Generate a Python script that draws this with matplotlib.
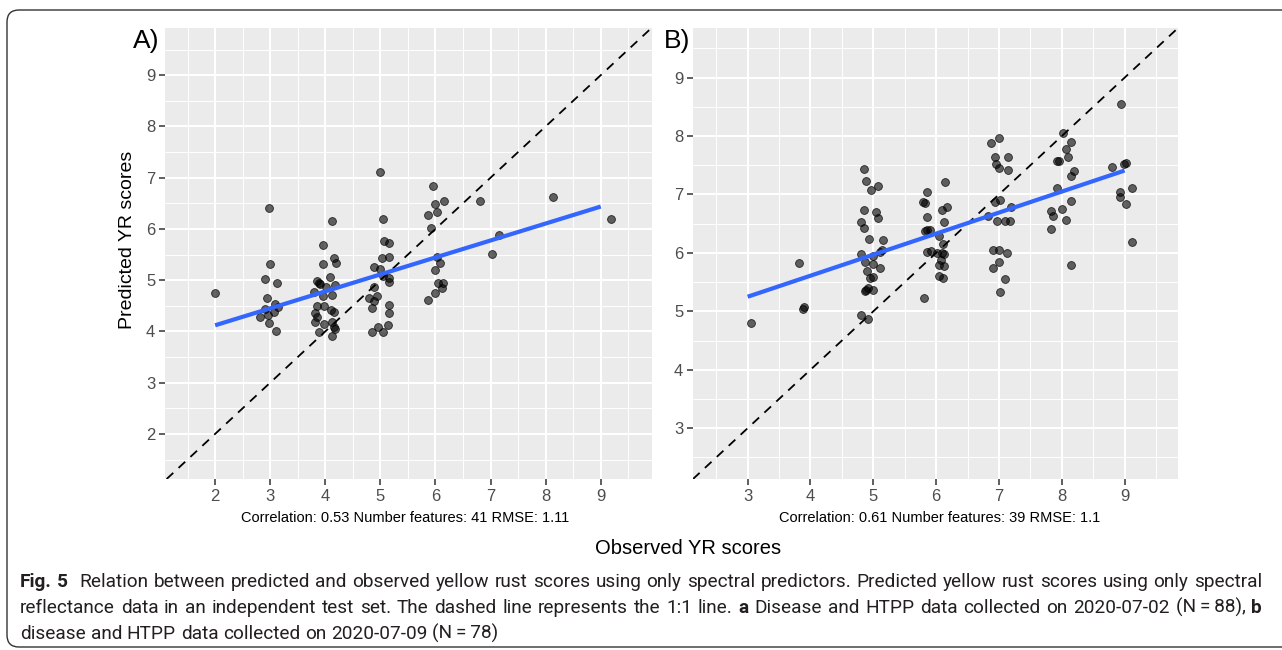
import re
import matplotlib
matplotlib.use('Agg')
import matplotlib.pyplot as plt
from matplotlib.ticker import MultipleLocator
from matplotlib.transforms import IdentityTransform
from matplotlib.patches import FancyBboxPatch
import numpy as np

# ---- data (observed jittered, predicted) ----
obs_a = [2.00,
         2.98, 3.00, 2.91, 3.13, 2.95, 2.91, 3.09, 3.15, 3.06, 2.82, 2.96, 2.97, 3.11,
         4.13, 3.95, 3.95, 4.15, 4.20, 4.09, 3.85, 3.91, 3.88, 4.02, 4.18, 3.80, 3.95, 4.13,
         3.85, 3.98, 3.82, 3.85, 4.11, 4.16, 3.82, 3.98, 4.13, 4.15, 4.18, 3.89, 4.13,
         5.00, 5.04, 5.07, 5.16, 4.89, 5.02, 5.16, 5.00, 5.04, 5.16, 5.15, 4.89, 4.94, 4.80,
         4.89, 4.85, 5.15, 5.16, 5.13, 4.95, 4.85, 5.04,
         5.96, 6.00, 6.15, 5.87, 6.02, 5.91, 6.02, 6.09, 6.00, 6.05, 6.13, 6.11, 6.00, 5.87,
         6.80, 7.15, 7.02, 8.13, 9.18]
pred_a = [4.74,
          6.40, 5.31, 5.02, 4.94, 4.65, 4.43, 4.53, 4.47, 4.37, 4.28, 4.32, 4.16, 4.00,
          6.16, 5.68, 5.31, 5.44, 5.33, 5.07, 4.98, 4.92, 4.95, 4.86, 4.90, 4.76, 4.69, 4.72,
          4.49, 4.49, 4.35, 4.28, 4.41, 4.37, 4.18, 4.14, 4.18, 4.08, 4.04, 3.98, 3.91,
          7.12, 6.20, 5.77, 5.73, 5.25, 5.44, 5.45, 5.21, 5.09, 5.05, 4.96, 4.86, 4.70, 4.65,
          4.59, 4.45, 4.51, 4.35, 4.12, 4.08, 3.98, 3.98,
          6.84, 6.48, 6.55, 6.28, 6.32, 6.01, 5.46, 5.34, 5.19, 4.94, 4.94, 4.84, 4.74, 4.61,
          6.55, 5.89, 5.52, 6.63, 6.20]

obs_b = [3.05, 3.82, 3.88, 3.90,
         4.85, 4.89, 4.97, 5.07, 4.85, 5.04, 5.07, 4.81, 4.85, 4.93, 5.16, 4.80, 5.10, 5.14,
         4.87, 5.00, 5.10, 4.90, 4.95, 5.00, 4.87, 4.88, 4.91, 4.99, 4.81, 4.91, 5.00,
         5.86, 6.14, 5.79, 5.83, 6.10, 6.18, 5.85, 6.13, 5.82, 5.86, 5.91, 6.05, 6.11, 5.86,
         5.92, 6.01, 6.09, 6.12, 6.07, 6.05, 6.12, 6.05, 6.11, 5.80,
         6.87, 7.00, 6.93, 6.95, 7.00, 7.14, 7.14, 6.94, 7.01, 7.19, 6.82, 6.97, 7.10, 7.17,
         6.90, 7.00, 7.13, 7.00, 6.91, 7.09, 7.02,
         8.02, 8.14, 8.07, 8.10, 7.93, 7.95, 8.19, 8.14, 7.93, 8.15, 7.83, 7.86, 8.00, 8.07,
         7.83, 8.15,
         8.94, 8.80, 8.99, 9.03, 8.92, 8.92, 9.11, 9.03, 9.11]
pred_b = [4.80, 5.83, 5.04, 5.07,
          7.43, 7.23, 7.08, 7.14, 6.74, 6.70, 6.60, 6.53, 6.43, 6.24, 6.22, 5.98, 6.02, 6.05,
          5.84, 5.81, 5.75, 5.69, 5.57, 5.58, 5.34, 5.36, 5.40, 5.37, 4.94, 4.87, 5.95,
          7.04, 7.21, 6.87, 6.86, 6.73, 6.79, 6.61, 6.53, 6.37, 6.39, 6.39, 6.29, 6.15, 6.02,
          6.03, 5.99, 6.00, 5.98, 5.88, 5.80, 5.77, 5.60, 5.57, 5.23,
          7.89, 7.97, 7.65, 7.53, 7.46, 7.65, 7.42, 6.88, 6.90, 6.78, 6.64, 6.55, 6.54, 6.55,
          6.05, 6.05, 5.99, 5.84, 5.75, 5.55, 5.33,
          8.05, 7.90, 7.78, 7.65, 7.57, 7.57, 7.40, 7.32, 7.11, 6.89, 6.72, 6.64, 6.76, 6.56,
          6.41, 5.80,
          8.55, 7.47, 7.53, 7.54, 7.05, 6.96, 7.11, 6.84, 6.19]

# linear fit (intercept, slope) as drawn
fit_a = (3.457, 0.331)
fit_b = (4.17, 0.36)

ticks_a = [2, 3, 4, 5, 6, 7, 8, 9]
ticks_b = [3, 4, 5, 6, 7, 8, 9]
lim_a_x = (1.09, 9.93)
lim_a_y = (1.12, 9.92)
lim_b = (2.13, 9.85)

stats_a = "Correlation: 0.53 Number features: 41 RMSE: 1.11"
stats_b = "Correlation: 0.61 Number features: 39 RMSE: 1.1"

caption = [
    [("Fig. 5", "bold"),
     ("  Relation between predicted and observed yellow rust scores using only spectral predictors. "
      "Predicted yellow rust scores using only spectral", "normal")],
    [("reflectance data in an independent test set. The dashed line represents the 1:1 line. ", "normal"),
     ("a", "bold"),
     (" Disease and HTPP data collected on 2020-07-02 (N\u2009=\u200988), ", "normal"),
     ("b", "bold")],
    [("disease and HTPP data collected on 2020-07-09 (N\u2009=\u200978)", "normal")],
]

W, H = 1282, 650
SANS = ['Liberation Sans', 'DejaVu Sans']
CAP = ['Roboto', 'DejaVu Sans']

fig = plt.figure(figsize=(W / 100, H / 100), dpi=100)
ident = IdentityTransform()


def px_axes(left, top, right, bottom):
    return fig.add_axes([left / W, 1 - bottom / H, (right - left) / W, (bottom - top) / H])


def gg_panel(ax, obs, pred, fit, ticks, xlim, ylim):
    ax.set_facecolor('#EBEBEB')
    for s in ax.spines.values():
        s.set_visible(False)
    ax.set_xlim(xlim)
    ax.set_ylim(ylim)
    ax.set_xticks(ticks)
    ax.set_yticks(ticks)
    ax.xaxis.set_minor_locator(MultipleLocator(0.5))
    ax.yaxis.set_minor_locator(MultipleLocator(0.5))
    ax.grid(which='major', color='white', linewidth=1.5)
    ax.grid(which='minor', color='white', linewidth=0.7)
    ax.set_axisbelow(True)
    ax.tick_params(which='major', length=4, width=1.1, color='#333333',
                   labelsize=12, labelcolor='#4D4D4D', pad=3)
    ax.tick_params(which='minor', length=0)
    for lab in ax.get_xticklabels() + ax.get_yticklabels():
        lab.set_family(SANS)

    ax.axline((0, 0), slope=1, color='black', linestyle=(0, (5, 4)), linewidth=1.3, zorder=2)
    ax.scatter(obs, pred, s=32, facecolor=(0, 0, 0, 0.6), edgecolor=(0, 0, 0, 0.75),
               linewidth=0.6, zorder=3)
    xs = np.array([round(min(obs)), round(max(obs))], dtype=float)
    ax.plot(xs, fit[0] + fit[1] * xs, color='#3366FF', linewidth=3.0,
            solid_capstyle='butt', zorder=4)


ax_a = px_axes(165, 28, 652, 479)
gg_panel(ax_a, obs_a, pred_a, fit_a, ticks_a, lim_a_x, lim_a_y)
ax_b = px_axes(693, 28, 1178, 479)
gg_panel(ax_b, obs_b, pred_b, fit_b, ticks_b, lim_b, lim_b)


def ptext(x, y, s, **kw):
    return fig.text(x, H - y, s, transform=ident, **kw)


ptext(146, 41, "A)", fontsize=19, family=SANS, ha='center', va='center', color='black')
ptext(677, 41, "B)", fontsize=19, family=SANS, ha='center', va='center', color='black')
ptext(128, 240, "Predicted YR scores", fontsize=14, family=SANS, rotation=90,
      ha='center', va='center', color='black')
ptext(405, 518, stats_a, fontsize=10.5, family=SANS, ha='center', va='center', color='black')
ptext(940, 518, stats_b, fontsize=10.5, family=SANS, ha='center', va='center', color='black')
ptext(688, 549, "Observed YR scores", fontsize=14.5, family=SANS, ha='center', va='center',
      color='black')

# caption: justified lines, drawn word by word so bold pieces sit inline
fig.canvas.draw()
renderer = fig.canvas.get_renderer()


def tokens_of(runs):
    toks, pending = [], 0
    for txt, weight in runs:
        for p in re.split(r'( +)', txt):
            if not p:
                continue
            if p[0] == ' ':
                pending += len(p)
            else:
                toks.append((p, weight, pending))
                pending = 0
    return toks


def caption_line(x0, x1, y, runs, size, justify, draw=True):
    toks = tokens_of(runs)
    arts, widths = [], []
    for word, weight, _ in toks:
        t = ptext(0, y, word, fontsize=size, family=CAP, fontweight=weight,
                  ha='left', va='baseline', color='#231F20')
        widths.append(t.get_window_extent(renderer).width)
        arts.append(t)
    n_sp = sum(sp for _, _, sp in toks[1:])
    natural = 0.25 * size * 100 / 72
    if justify and n_sp:
        unit = (x1 - x0 - sum(widths)) / n_sp
    else:
        unit = natural
    total = sum(widths) + n_sp * natural
    x = x0
    for i, (art, w) in enumerate(zip(arts, widths)):
        if i:
            x += toks[i][2] * unit
        art.set_x(x)
        x += w
    if not draw:
        for a in arts:
            a.remove()
    return total


# size chosen so the first line nearly fills the width; lines 1-2 are justified
probe = caption_line(20, 1262, 587, caption[0], 12, False, draw=False)
size = 12 * 1225 / probe
for i, runs in enumerate(caption):
    caption_line(20, 1262, 587 + 26 * i, runs, size, justify=(i < len(caption) - 1))

frame = FancyBboxPatch((7, 3), 1300, H - 13, boxstyle='round,pad=0,rounding_size=12',
                       transform=ident, fill=False, edgecolor='#333333', linewidth=1.0)
fig.add_artist(frame)

fig.savefig('out.png', dpi=100)
